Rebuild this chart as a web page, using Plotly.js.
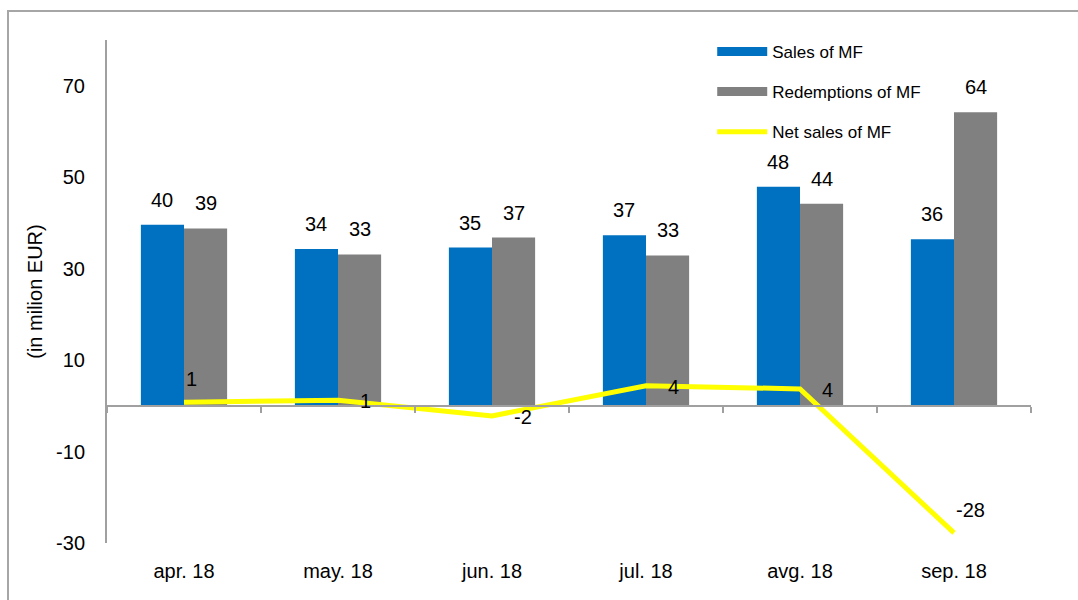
<!DOCTYPE html>
<html>
<head>
<meta charset="utf-8">
<script src="https://cdn.plot.ly/plotly-3.0.1.min.js"></script>
<style>
  html, body { margin: 0; padding: 0; background: #ffffff; overflow: hidden; }
  #wrap { position: relative; width: 1078px; height: 600px; }
  #chart { position: absolute; left: 0; top: 0; width: 1078px; height: 600px; }
  #frame { position: absolute; left: 7px; top: 10px; width: 1100px; height: 620px;
           border-left: 2px solid #a6a6a6; border-top: 2px solid #a6a6a6; pointer-events: none; }
</style>
</head>
<body>
<div id="wrap">
  <div id="chart"></div>
  <div id="frame"></div>
</div>
<script>
// ---- data ----
const categories = ['apr. 18', 'may. 18', 'jun. 18', 'jul. 18', 'avg. 18', 'sep. 18'];
const sales = [39.6, 34.3, 34.6, 37.3, 47.9, 36.4];
const redemptions = [38.8, 33.1, 36.8, 32.9, 44.2, 64.2];
const netSales = [0.8, 1.2, -2.2, 4.4, 3.7, -27.8];
const yTickVals = [-30, -10, 10, 30, 50, 70];
const seriesNames = ['Sales of MF', 'Redemptions of MF', 'Net sales of MF'];

// ---- style ----
const yRange = [-30, 80];
const colSales = '#0070C0';
const colRed = '#808080';
const colNet = '#FFFF00';
const axisCol = '#a0a0a0';
const txtCol = '#000000';
const fontFam = '"Liberation Sans", Arial, sans-serif';
const bargap = 0.44;
const barOffset = (1 - bargap) / 4;
const netLabelPos = ['above', 'right', 'right', 'right', 'right', 'above'];

const traces = [
  { type: 'bar', x: categories, y: sales, name: seriesNames[0], legendgroup: 's',
    showlegend: false, marker: { color: colSales }, hoverinfo: 'x+y+name' },
  { type: 'bar', x: categories, y: redemptions, name: seriesNames[1], legendgroup: 'r',
    showlegend: false, marker: { color: colRed }, hoverinfo: 'x+y+name' },
  // legend entries drawn as wide rectangles like the original
  { type: 'scatter', mode: 'lines', x: [null], y: [null], name: seriesNames[0], legendgroup: 's',
    line: { color: colSales, width: 9 }, hoverinfo: 'skip' },
  { type: 'scatter', mode: 'lines', x: [null], y: [null], name: seriesNames[1], legendgroup: 'r',
    line: { color: colRed, width: 9 }, hoverinfo: 'skip' },
  { type: 'scatter', mode: 'lines', x: categories, y: netSales, xaxis: 'x2', yaxis: 'y',
    name: seriesNames[2], legendgroup: 'n', line: { color: colNet, width: 5 } }
];

const annotations = [];
categories.forEach((c, i) => {
  annotations.push({ xref: 'x', yref: 'y', x: i - barOffset, y: sales[i], text: String(Math.round(sales[i])),
    showarrow: false, yanchor: 'bottom', yshift: 12, font: { size: 20, color: txtCol, family: fontFam } });
  annotations.push({ xref: 'x', yref: 'y', x: i + barOffset, y: redemptions[i], text: String(Math.round(redemptions[i])),
    showarrow: false, yanchor: 'bottom', yshift: 12, font: { size: 20, color: txtCol, family: fontFam } });
  const above = netLabelPos[i] === 'above';
  annotations.push({ xref: 'x', yref: 'y', x: i, y: netSales[i], text: String(Math.round(netSales[i])),
    showarrow: false, xanchor: 'left', yanchor: 'middle',
    xshift: above ? 0 : 20, yshift: above ? 23 : -1,
    font: { size: 20, color: txtCol, family: fontFam } });
});

const layout = {
  width: 1078, height: 600,
  margin: { l: 107, r: 47, t: 40, b: 57 },
  paper_bgcolor: 'rgba(0,0,0,0)', plot_bgcolor: 'rgba(0,0,0,0)',
  font: { family: fontFam, color: txtCol },
  barmode: 'group', bargap: bargap, bargroupgap: 0,
  showlegend: true,
  legend: { x: 0.655, y: 1.012, xanchor: 'left', yanchor: 'top', itemwidth: 50,
            traceorder: 'grouped', tracegroupgap: 15, bgcolor: 'rgba(0,0,0,0)',
            font: { size: 17, color: txtCol, family: fontFam } },
  xaxis: { type: 'category', categoryorder: 'array', categoryarray: categories,
           showline: false, ticks: '', showgrid: false, zeroline: false,
           tickfont: { size: 20, color: txtCol }, ticklabelstandoff: 14, fixedrange: true },
  xaxis2: { type: 'category', categoryorder: 'array', categoryarray: categories,
            overlaying: 'x', matches: 'x', anchor: 'free',
            position: (0 - yRange[0]) / (yRange[1] - yRange[0]),
            showline: true, linecolor: axisCol, linewidth: 2,
            ticks: 'outside', tickson: 'boundaries', ticklen: 6, tickcolor: axisCol, tickwidth: 2,
            showticklabels: false, showgrid: false, zeroline: false, fixedrange: true },
  yaxis: { range: yRange, tickvals: yTickVals, ticktext: yTickVals.map(String),
           showline: true, linecolor: axisCol, linewidth: 2, ticks: '',
           showgrid: false, zeroline: false, fixedrange: true,
           tickfont: { size: 20, color: txtCol }, ticklabelstandoff: 16,
           title: { text: '(in milion EUR)', standoff: 8, font: { size: 20, color: txtCol } } },
  annotations: annotations
};

Plotly.newPlot('chart', traces, layout, { displayModeBar: false, staticPlot: false });
</script>
</body>
</html>
